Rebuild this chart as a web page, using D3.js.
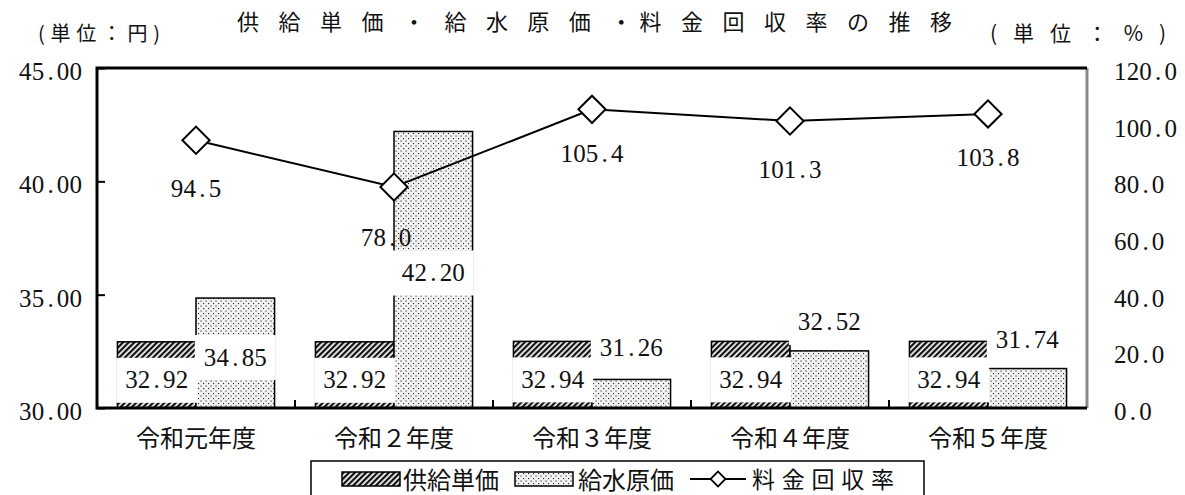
<!DOCTYPE html>
<html>
<head>
<meta charset="utf-8">
<script src="https://cdn.jsdelivr.net/npm/d3@7"></script>
<style>
  body { margin: 0; background: #fff; }
</style>
</head>
<body>
<div id="chart"></div>
<script>
// chart data
const categories = ["令和元年度", "令和２年度", "令和３年度", "令和４年度", "令和５年度"];
const supplyPrice = [32.92, 32.92, 32.94, 32.94, 32.94];   // 供給単価 (円)
const waterCost = [34.85, 42.20, 31.26, 32.52, 31.74];     // 給水原価 (円)
const recoveryRate = [94.5, 78.0, 105.4, 101.3, 103.8];    // 料金回収率 (%)
const leftTicks = [30, 35, 40, 45];
const rightTicks = [0, 20, 40, 60, 80, 100, 120];

// label nudges in px (as placed in the original)
const supplyLabelDy = [38, 38, 38, 38, 38];
const costLabelDy = [59, 141, -32, -29, -29];
const rateLabelDx = [0, -8, 0, 0, 0];
const rateLabelDy = [48, 50, 44, 49, 44];

const W = 1185, H = 495;
const plot = { left: 97, top: 68, right: 1087, bottom: 408 };
const numFont = "'Liberation Serif', 'DejaVu Serif', serif";
const jpFont = "'Noto Sans CJK JP', sans-serif";
const charW = 12.6;

const svg = d3.select("#chart").append("svg")
    .attr("width", W)
    .attr("height", H)
    .style("display", "block");

// patterns
const defs = svg.append("defs");
const hatch = defs.append("pattern")
    .attr("id", "hatch")
    .attr("patternUnits", "userSpaceOnUse")
    .attr("width", 4).attr("height", 4)
    .attr("patternTransform", "rotate(45)");
hatch.append("rect").attr("width", 4).attr("height", 4).attr("fill", "#fff");
hatch.append("rect").attr("width", 2.3).attr("height", 4).attr("fill", "#111");

const dots = defs.append("pattern")
    .attr("id", "dots")
    .attr("patternUnits", "userSpaceOnUse")
    .attr("width", 5).attr("height", 5);
dots.append("rect").attr("width", 5).attr("height", 5).attr("fill", "#f2f2f2");
dots.append("rect").attr("x", 0.5).attr("y", 0.5).attr("width", 1.1).attr("height", 1.1).attr("fill", "#222");
dots.append("rect").attr("x", 3).attr("y", 3).attr("width", 1.1).attr("height", 1.1).attr("fill", "#222");

// scales
const x = d3.scaleBand().domain(categories).range([plot.left, plot.right]);
const xs = d3.scaleBand().domain(["supply", "cost"]).range([0, x.bandwidth()]).paddingOuter(0.26);
const yL = d3.scaleLinear().domain([30, 45]).range([plot.bottom, plot.top]);
const yR = d3.scaleLinear().domain([0, 120]).range([plot.bottom, plot.top]);

// monospaced number text, like the Mincho half-width digits
function monoText(g, str, cx, cy, size) {
    const t = g.append("text")
        .attr("y", cy + size * 0.34)
        .attr("text-anchor", "middle")
        .attr("font-family", numFont)
        .attr("font-size", size)
        .attr("fill", "#111");
    [...str].forEach((ch, i) => {
        t.append("tspan").attr("x", cx + (i - (str.length - 1) / 2) * charW).text(ch);
    });
    return t;
}

// bars
const bars = svg.append("g");
categories.forEach((c, i) => {
    bars.append("rect")
        .attr("x", x(c) + xs("supply"))
        .attr("y", yL(supplyPrice[i]))
        .attr("width", xs.bandwidth())
        .attr("height", yL(30) - yL(supplyPrice[i]))
        .attr("fill", "url(#hatch)")
        .attr("stroke", "#000")
        .attr("stroke-width", 1.5);
    bars.append("rect")
        .attr("x", x(c) + xs("cost"))
        .attr("y", yL(waterCost[i]))
        .attr("width", xs.bandwidth())
        .attr("height", yL(30) - yL(waterCost[i]))
        .attr("fill", "url(#dots)")
        .attr("stroke", "#000")
        .attr("stroke-width", 1.5);
});

// bar labels with white boxes
const barLabels = svg.append("g");
function boxedLabel(str, cx, cy) {
    const bw = str.length * charW + 18;
    barLabels.append("rect")
        .attr("x", cx - bw / 2).attr("y", cy - 22)
        .attr("width", bw).attr("height", 45)
        .attr("fill", "#fff");
    monoText(barLabels, str, cx, cy, 25);
}
categories.forEach((c, i) => {
    boxedLabel(d3.format(".2f")(supplyPrice[i]),
        x(c) + xs("supply") + xs.bandwidth() / 2, yL(supplyPrice[i]) + supplyLabelDy[i]);
    boxedLabel(d3.format(".2f")(waterCost[i]),
        x(c) + xs("cost") + xs.bandwidth() / 2, yL(waterCost[i]) + costLabelDy[i]);
});

// frame
const frame = svg.append("g").attr("fill", "none");
frame.append("line").attr("x1", plot.right).attr("x2", plot.right)
    .attr("y1", plot.top).attr("y2", plot.bottom)
    .attr("stroke", "#8a8a8a").attr("stroke-width", 3);
frame.append("path")
    .attr("d", `M${plot.right},${plot.top}H${plot.left}V${plot.bottom}H${plot.right}`)
    .attr("stroke", "#000").attr("stroke-width", 3);

// left axis (inward ticks)
const gL = svg.append("g")
    .attr("transform", `translate(${plot.left},0)`)
    .call(d3.axisLeft(yL).tickValues(leftTicks).tickSize(-8).tickFormat(d3.format(".2f")));
gL.select(".domain").remove();
gL.selectAll(".tick line").attr("stroke", "#000").attr("stroke-width", 2);
gL.selectAll(".tick text").remove();
gL.selectAll(".tick").each(function (d) {
    const s = d3.format(".2f")(d);
    monoText(d3.select(this), s, -15 - s.length * charW / 2, 3, 25);
});

// right axis
const gR = svg.append("g")
    .attr("transform", `translate(${plot.right},0)`)
    .call(d3.axisRight(yR).tickValues(rightTicks).tickSize(0).tickFormat(d3.format(".1f")));
gR.select(".domain").remove();
gR.selectAll(".tick text").remove();
gR.selectAll(".tick").each(function (d) {
    const s = d3.format(".1f")(d);
    monoText(d3.select(this), s, 27 + s.length * charW / 2, 3, 25);
});

// bottom axis: category labels, separator ticks between categories
const gB = svg.append("g")
    .attr("transform", `translate(0,${plot.bottom})`)
    .call(d3.axisBottom(x).tickSize(0).tickPadding(22));
gB.select(".domain").remove();
gB.selectAll(".tick text")
    .attr("font-family", jpFont)
    .attr("font-size", 24)
    .attr("fill", "#111");
gB.selectAll(".sep")
    .data(categories.slice(1))
    .join("line")
    .attr("x1", d => x(d)).attr("x2", d => x(d))
    .attr("y1", 0).attr("y2", -8)
    .attr("stroke", "#000").attr("stroke-width", 2);

// recovery rate line
const line = d3.line()
    .x((d, i) => x(categories[i]) + x.bandwidth() / 2)
    .y(d => yR(d));
svg.append("path")
    .datum(recoveryRate)
    .attr("d", line)
    .attr("fill", "none")
    .attr("stroke", "#000")
    .attr("stroke-width", 2);

const diamond = d3.symbol().type(d3.symbolSquare).size(370);
svg.append("g").selectAll("path")
    .data(recoveryRate)
    .join("path")
    .attr("d", diamond)
    .attr("transform", (d, i) => `translate(${x(categories[i]) + x.bandwidth() / 2},${yR(d)}) rotate(45)`)
    .attr("fill", "#fff")
    .attr("stroke", "#000")
    .attr("stroke-width", 2);

const rateLabels = svg.append("g");
recoveryRate.forEach((v, i) => {
    monoText(rateLabels, d3.format(".1f")(v),
        x(categories[i]) + x.bandwidth() / 2 + rateLabelDx[i], yR(v) + rateLabelDy[i], 25);
});

// title and unit notes
svg.append("text")
    .attr("x", 237).attr("y", 30)
    .attr("font-family", jpFont)
    .attr("font-size", 22)
    .attr("textLength", 715)
    .attr("lengthAdjust", "spacing")
    .attr("fill", "#111")
    .text("供 給 単 価 ・ 給 水 原 価 ・料 金 回 収 率 の 推 移");
svg.append("text")
    .attr("x", 38).attr("y", 41)
    .attr("font-family", jpFont).attr("font-size", 20).attr("fill", "#111")
    .attr("textLength", 122).attr("lengthAdjust", "spacing")
    .text("(単位：円)");
svg.append("text")
    .attr("x", 990).attr("y", 41)
    .attr("font-family", jpFont).attr("font-size", 21).attr("fill", "#111")
    .attr("textLength", 176).attr("lengthAdjust", "spacing")
    .text("(単位：%)");

// legend
const lg = svg.append("g");
lg.append("rect")
    .attr("x", 311).attr("y", 461).attr("width", 613).attr("height", 40)
    .attr("fill", "#fff").attr("stroke", "#000").attr("stroke-width", 1.5);
lg.append("rect").attr("x", 342).attr("y", 472).attr("width", 58).attr("height", 14)
    .attr("fill", "url(#hatch)").attr("stroke", "#000").attr("stroke-width", 1.5);
lg.append("text").attr("x", 403).attr("y", 489)
    .attr("font-family", jpFont).attr("font-size", 24).attr("fill", "#111").text("供給単価");
lg.append("rect").attr("x", 515).attr("y", 472).attr("width", 58).attr("height", 14)
    .attr("fill", "url(#dots)").attr("stroke", "#000").attr("stroke-width", 1.5);
lg.append("text").attr("x", 578).attr("y", 489)
    .attr("font-family", jpFont).attr("font-size", 24).attr("fill", "#111").text("給水原価");
lg.append("line").attr("x1", 690).attr("x2", 746).attr("y1", 479).attr("y2", 479)
    .attr("stroke", "#000").attr("stroke-width", 2);
lg.append("path")
    .attr("d", d3.symbol().type(d3.symbolSquare).size(110)())
    .attr("transform", "translate(718,479) rotate(45)")
    .attr("fill", "#fff").attr("stroke", "#000").attr("stroke-width", 1.8);
lg.append("text").attr("x", 752).attr("y", 488)
    .attr("font-family", jpFont).attr("font-size", 23).attr("fill", "#111")
    .attr("textLength", 142).attr("lengthAdjust", "spacing")
    .text("料金回収率");
</script>
</body>
</html>
